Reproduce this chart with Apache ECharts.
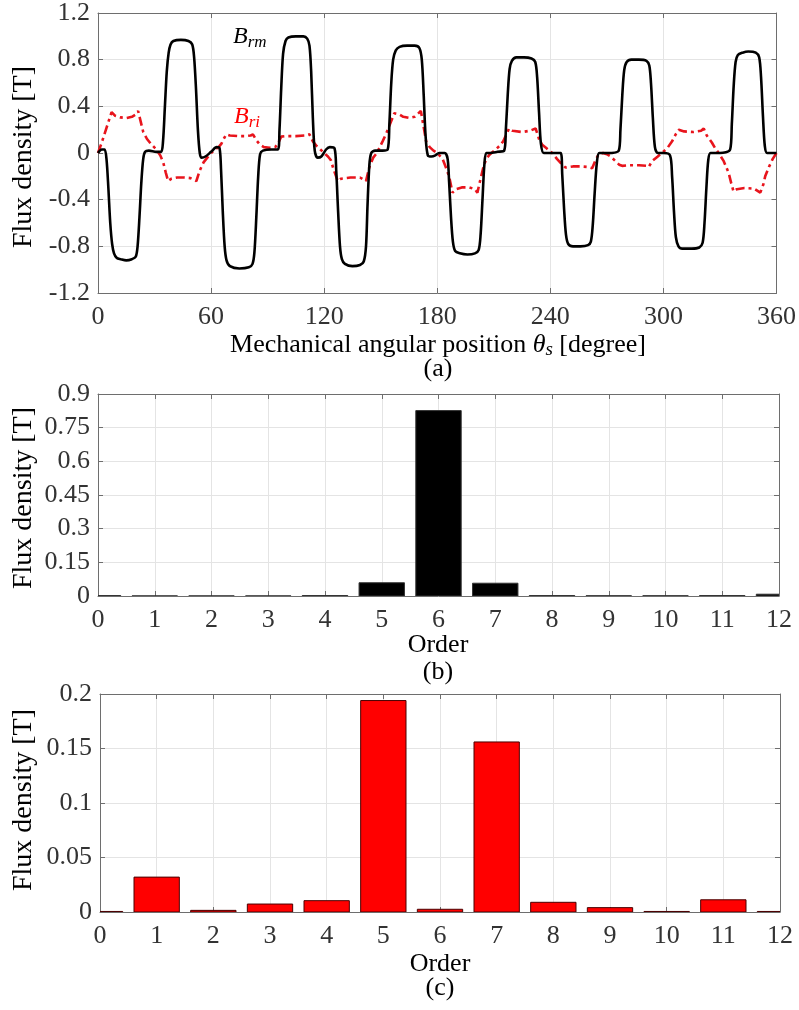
<!DOCTYPE html>
<html><head><meta charset="utf-8">
<script src="https://cdn.jsdelivr.net/npm/echarts@6/dist/echarts.min.js"></script>
<style>html,body{margin:0;padding:0;background:#fff}#c{width:799px;height:1010px}</style>
</head><body><div id="c"></div>
<script>
// ---- (a) waveform data: [angle (deg), flux density (T)] ----
const angleTicks = [0, 60, 120, 180, 240, 300, 360];
const Brm = [[0,0],[2,0.03],[3.5,0.03],[4.5,-0.05],[5.5,-0.3],[6.5,-0.6],[7.5,-0.78],[8.5,-0.86],[10,-0.9],[12,-0.91],[15,-0.92],[18,-0.91],[20,-0.89],[21,-0.8],[22,-0.55],[23,-0.25],[24,-0.05],[25,0.01],[27,0.02],[31,0.01],[33.5,0.01],
[34.5,0.1],[35.5,0.4],[36.5,0.7],[37.5,0.86],[38.5,0.93],[40,0.96],[44,0.97],[48,0.96],[50,0.93],[51,0.82],[52,0.55],[53,0.2],[54,0.0],[55,-0.04],[57,-0.03],[60,0.01],[63,0.05],[64.5,0.04],
[65.3,-0.15],[66.2,-0.5],[67.2,-0.8],[68.2,-0.92],[70,-0.97],[75,-0.99],[80,-0.98],[82,-0.95],[83,-0.85],[84,-0.55],[85,-0.2],[86,-0.01],[87.5,0.02],[92,0.03],[95.5,0.03],
[96.3,0.2],[97.2,0.55],[98.2,0.85],[99.5,0.96],[101,0.99],[105,1.0],[109,1.0],[111,0.98],[112.2,0.92],[113.1,0.7],[114,0.3],[115,0.02],[116.5,-0.04],[118.5,-0.03],[121,0.03],[123,0.05],[125.5,0.04],
[126.4,-0.15],[127.4,-0.5],[128.4,-0.8],[129.4,-0.91],[131,-0.95],[135,-0.97],[139,-0.96],[141,-0.93],[142.2,-0.8],[143,-0.45],[144,-0.1],[145,0.0],[147,0.02],[151,0.02],[153.7,0.03],
[154.6,0.25],[155.6,0.6],[156.6,0.8],[158,0.88],[160,0.91],[164,0.92],[168,0.92],[170.5,0.9],[171.8,0.8],[172.8,0.5],[173.8,0.15],[175,-0.02],[177,-0.03],[179,-0.02],[181,0.0],[184,0.0],[185.5,-0.05],
[186.3,-0.25],[187.3,-0.55],[188.3,-0.76],[189.5,-0.84],[192,-0.86],[196,-0.87],[200,-0.86],[202,-0.83],[203,-0.7],[204,-0.4],[205,-0.1],[206,0.0],[208,0.0],[212,0.01],[215.5,0.02],
[216.4,0.2],[217.4,0.5],[218.4,0.72],[219.6,0.79],[222,0.82],[226,0.82],[230,0.81],[232,0.78],[233,0.65],[234,0.35],[235,0.08],[236.5,0.0],[240,0.0],[245.5,0.0],
[246.3,-0.18],[247.3,-0.48],[248.3,-0.7],[249.5,-0.78],[252,-0.8],[256,-0.8],[260,-0.79],[261.5,-0.76],[262.5,-0.62],[263.5,-0.35],[264.7,-0.08],[266,0.0],[270,0.0],[276.3,0.02],
[277.2,0.2],[278.2,0.5],[279.2,0.71],[280.5,0.78],[283,0.8],[287,0.8],[291,0.79],[292.5,0.75],[293.4,0.6],[294.4,0.3],[295.5,0.05],[297,0.0],[300,0.0],[303.5,-0.02],
[304.6,-0.2],[305.6,-0.5],[306.6,-0.72],[308,-0.8],[310,-0.82],[315,-0.82],[319,-0.81],[320.8,-0.77],[321.8,-0.6],[322.8,-0.3],[323.8,-0.06],[325,0.0],[330,0.0],[335.4,0.03],
[336.3,0.25],[337.3,0.58],[338.3,0.78],[339.5,0.84],[342,0.86],[345,0.87],[349,0.86],[350.8,0.82],[351.8,0.65],[352.8,0.32],[353.8,0.06],[355,0.0],[360,0.0]];
const Bri = [[0,0],[2,0.09],[4,0.19],[6,0.29],[7.2,0.35],[9,0.32],[12,0.305],[15,0.3],[18,0.31],[20,0.33],[21.3,0.36],[22.5,0.28],[24,0.18],[26,0.12],[28,0.08],[31,0.03],[33,-0.02],[34.6,-0.08],[36,-0.17],[37.2,-0.24],[39,-0.22],[42,-0.21],[46,-0.21],[49,-0.215],[52.2,-0.24],[54,-0.15],[56,-0.08],[58,-0.04],[60,0.0],[62,0.03],[64,0.05],[65.5,0.08],[67,0.13],[68.1,0.16],[70,0.15],[74,0.145],[78,0.145],[81,0.15],[82.2,0.16],[84,0.11],[86,0.07],[88,0.05],[91,0.045],[94,0.05],[95.5,0.08],[97.2,0.14],[100,0.145],[105,0.145],[110,0.15],[112.2,0.16],[114,0.1],[116,0.06],[118,0.03],[120,0.0],[122,-0.03],[123.5,-0.06],[125,-0.14],[127.2,-0.24],[129,-0.22],[134,-0.21],[139,-0.21],[142.2,-0.24],[144,-0.12],[146,-0.04],[148,0.0],[151,0.1],[153,0.17],[155,0.25],[157.2,0.34],[159.9,0.33],[162,0.31],[165.2,0.3],[168,0.31],[171.3,0.36],[172.5,0.25],[174.1,0.1],[176,0.05],[178,0.02],[180,0.0],[182.8,-0.05],[184.5,-0.12],[186.3,-0.2],[188.1,-0.34],[190,-0.31],[193,-0.295],[197,-0.295],[200,-0.31],[201.3,-0.34],[203,-0.22],[204.5,-0.12],[206,-0.05],[208,-0.01],[211,0.03],[213,0.06],[215,0.1],[216.4,0.15],[218.1,0.21],[220,0.19],[225,0.18],[229,0.19],[232.2,0.21],[234,0.12],[235.7,0.07],[238,0.04],[241,0.0],[243.5,-0.05],[246.3,-0.1],[248.1,-0.125],[252,-0.115],[256,-0.115],[260,-0.12],[262.2,-0.13],[264,-0.06],[265.7,-0.01],[268,0.0],[270,-0.01],[272,-0.03],[274.6,-0.07],[276.5,-0.1],[278.1,-0.11],[282,-0.105],[287,-0.105],[291,-0.11],[292.2,-0.12],[294,-0.07],[297,-0.03],[299.2,0.0],[302,0.04],[304.6,0.1],[306.5,0.16],[308.1,0.2],[311,0.185],[316,0.18],[320,0.19],[321.4,0.21],[323,0.15],[325.7,0.09],[327.5,0.04],[329.3,0.0],[332,-0.07],[334.6,-0.17],[336,-0.26],[337.2,-0.33],[339,-0.31],[343,-0.3],[348,-0.305],[351.4,-0.34],[353,-0.27],[354,-0.2],[356,-0.12],[358,-0.05],[360,0.0]];

// ---- (b) and (c) harmonic spectra ----
const orders = [0,1,2,3,4,5,6,7,8,9,10,11,12];
const brmHarm = [0.002,0.0005,0.0005,0.0005,0.002,0.059,0.826,0.057,0.002,0.001,0.001,0.002,0.008];
const briHarm = [0.0005,0.032,0.0015,0.0073,0.0104,0.194,0.0025,0.156,0.0089,0.004,0.0005,0.0112,0.0005];

const FONT = '"Liberation Serif", "Times New Roman", serif';
const TXT = '#333';
const AX = '#6e6e6e';
const GRIDC = '#e4e4e4';
const LBL = 26;

function mainX(gi, min, max, interval) {
  return [{
    type:'value', gridIndex:gi, min, max, interval, position:'bottom',
    axisLine:{show:true, onZero:false, lineStyle:{color:AX, width:1}},
    axisTick:{show:true, inside:true, length:5, lineStyle:{color:AX}},
    axisLabel:{color:TXT, fontFamily:FONT, fontSize:LBL, margin:11},
    splitLine:{show:true, lineStyle:{color:GRIDC, width:1}}
  },{
    type:'value', gridIndex:gi, min, max, interval, position:'top',
    axisLine:{show:true, onZero:false, lineStyle:{color:AX, width:1}},
    axisTick:{show:true, inside:true, length:5, lineStyle:{color:AX}},
    axisLabel:{show:false}, splitLine:{show:false}
  }];
}
function mainY(gi, min, max, interval) {
  return [{
    type:'value', gridIndex:gi, min, max, interval, position:'left',
    axisLine:{show:true, onZero:false, lineStyle:{color:AX, width:1}},
    axisTick:{show:true, inside:true, length:5, lineStyle:{color:AX}},
    axisLabel:{color:TXT, fontFamily:FONT, fontSize:LBL, margin:8},
    splitLine:{show:true, lineStyle:{color:GRIDC, width:1}}
  },{
    type:'value', gridIndex:gi, min, max, interval, position:'right',
    axisLine:{show:true, onZero:false, lineStyle:{color:AX, width:1}},
    axisTick:{show:true, inside:true, length:5, lineStyle:{color:AX}},
    axisLabel:{show:false}, splitLine:{show:false}
  }];
}

const xAxes = [].concat(mainX(0, angleTicks[0], angleTicks[angleTicks.length-1], 60), mainX(1, 0, 12, 1), mainX(2, 0, 12, 1));
const yAxes = [].concat(mainY(0, -1.2, 1.2, 0.4), mainY(1, 0, 0.9, 0.15), mainY(2, 0, 0.2, 0.05));

function txt(x, y, text) {
  return {type:'text', x, y, silent:true,
    style:{text, fontFamily:FONT, fontSize:26, fill:'#000', align:'center', verticalAlign:'middle'}};
}
function ytitle(y) {
  return {type:'text', x:24, y, rotation:Math.PI/2, silent:true,
    style:{text:'Flux density [T]', fontFamily:FONT, fontSize:28, fill:'#000', align:'center', verticalAlign:'middle'}};
}

// bars drawn through the axes' scales, clipped to the plot box
function barSeries(xi, yi, values, fill, stroke) {
  return {
    type:'custom', xAxisIndex:xi, yAxisIndex:yi,
    data: orders.map((o,i)=>[o, values[i]]),
    clip:true,
    renderItem(params, api) {
      const o = api.value(0), v = api.value(1);
      const a = api.coord([o - 0.4, v]);
      const b = api.coord([o + 0.4, 0]);
      const cs = params.coordSys;
      const shape = echarts.graphic.clipRectByRect(
        {x:a[0], y:a[1], width:b[0]-a[0], height:b[1]-a[1]},
        {x:cs.x, y:cs.y, width:cs.width, height:cs.height});
      if (!shape) return null;
      return {type:'rect', shape, style:{fill, stroke, lineWidth:1}};
    }
  };
}

const chart = echarts.init(document.getElementById('c'), null, {renderer:'canvas'});
chart.setOption({
  animation:false,
  backgroundColor:'#fff',
  grid:[
    {left:98, top:11, width:680, height:282},
    {left:98, top:394, width:681, height:202},
    {left:100, top:694, width:680, height:218}
  ],
  xAxis:xAxes,
  yAxis:yAxes,
  series:[
    {type:'line', xAxisIndex:0, yAxisIndex:0, data:Bri, showSymbol:false, symbol:'none', smooth:false,
     lineStyle:{color:'#e8141c', width:2.6, type:[9,4,3,4]}, z:3},
    {type:'line', xAxisIndex:0, yAxisIndex:0, data:Brm, showSymbol:false, symbol:'none', smooth:0.3,
     lineStyle:{color:'#000', width:2.6}, z:4},
    barSeries(2, 2, brmHarm, '#000', '#333'),
    barSeries(4, 4, briHarm, '#ff0000', '#4a0000')
  ],
  graphic:[
    ytitle(157), ytitle(498), ytitle(800),
    {type:'text', x:438, y:345, silent:true, style:{
      text:'{n|Mechanical angular position }{t|θ}{s|s}{n| [degree]}', align:'center', verticalAlign:'middle', fill:'#000',
      rich:{n:{fontFamily:FONT, fontSize:26, fill:'#000'}, t:{fontFamily:FONT, fontSize:26, fontStyle:'italic', fill:'#000'}, s:{fontFamily:FONT, fontSize:19, fontStyle:'italic', fill:'#000', padding:[10,0,0,0]}}}},
    txt(438, 369, '(a)'),
    txt(438, 645, 'Order'),
    txt(438, 672, '(b)'),
    txt(440, 964, 'Order'),
    txt(440, 988, '(c)'),
    {type:'text', x:233, y:37, silent:true, style:{
      text:'{b|B}{s|rm}', align:'left', verticalAlign:'middle',
      rich:{b:{fontFamily:FONT, fontSize:24, fontStyle:'italic', fill:'#000'}, s:{fontFamily:FONT, fontSize:17, fontStyle:'italic', fill:'#000', padding:[12,0,0,0]}}}},
    {type:'text', x:234, y:117, silent:true, style:{
      text:'{b|B}{s|ri}', align:'left', verticalAlign:'middle',
      rich:{b:{fontFamily:FONT, fontSize:24, fontStyle:'italic', fill:'#f00'}, s:{fontFamily:FONT, fontSize:17, fontStyle:'italic', fill:'#f00', padding:[12,0,0,0]}}}}
  ]
});
</script>
</body></html>
